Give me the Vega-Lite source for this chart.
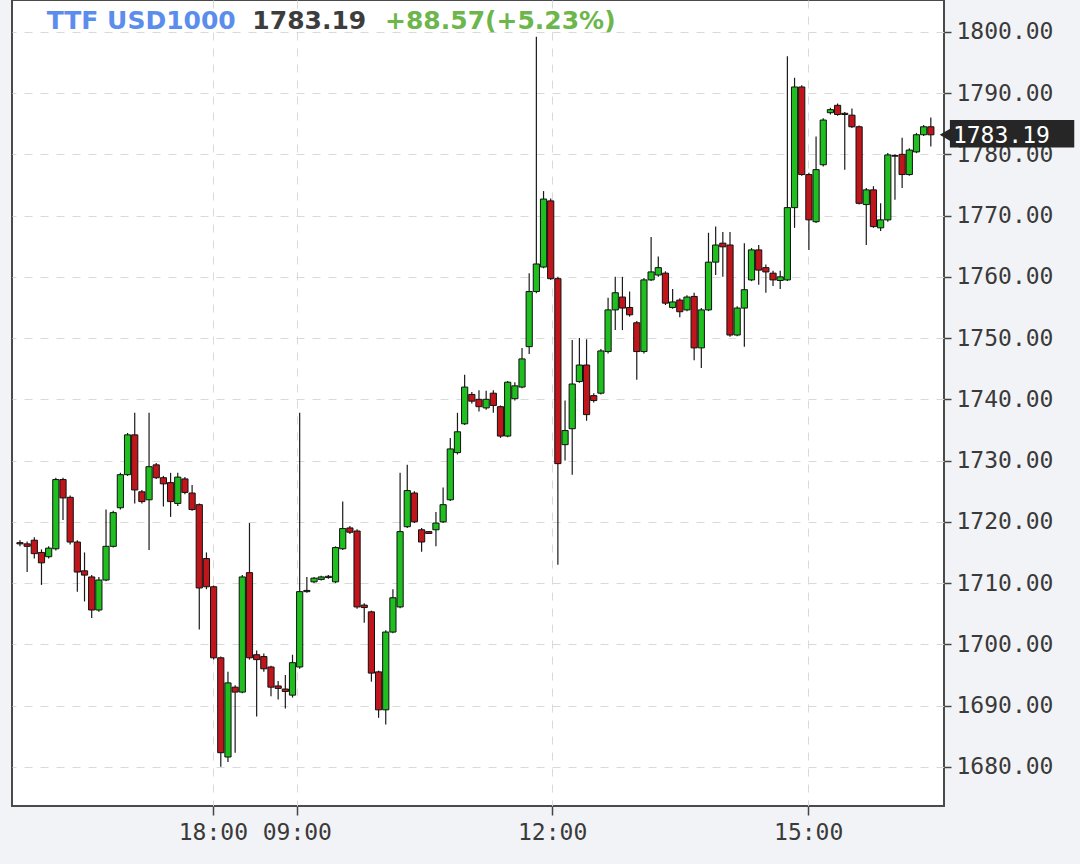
{
  "$schema": "https://vega.github.io/schema/vega-lite/v6.json",
  "width": 932,
  "height": 806,
  "autosize": {"type": "none"},
  "padding": {"left": 12, "top": 0, "right": 136, "bottom": 58},
  "background": "#f2f3f6",
  "config": {
    "view": {"fill": "white", "stroke": "#4a4a4a", "strokeWidth": 2},
    "axis": {
      "labelFont": "DejaVu Sans Mono",
      "labelFontSize": 23,
      "labelColor": "#3a3a3a",
      "tickColor": "#444",
      "gridColor": "#d9d9d9",
      "gridDash": [8, 8],
      "gridWidth": 1,
      "domain": false,
      "title": null
    }
  },
  "datasets": {
    "candles": [
      {"i":0,"o":1716.6,"h":1717.0,"l":1716.0,"c":1716.4},
      {"i":1,"o":1716.4,"h":1716.8,"l":1711.8,"c":1716.0},
      {"i":2,"o":1717.0,"h":1717.5,"l":1714.0,"c":1714.8},
      {"i":3,"o":1715.0,"h":1715.5,"l":1709.7,"c":1713.3},
      {"i":4,"o":1714.3,"h":1716.0,"l":1714.0,"c":1715.7},
      {"i":5,"o":1715.6,"h":1727.2,"l":1715.3,"c":1726.9},
      {"i":6,"o":1726.9,"h":1727.2,"l":1720.3,"c":1723.9},
      {"i":7,"o":1724.0,"h":1724.3,"l":1716.3,"c":1716.7},
      {"i":8,"o":1716.7,"h":1717.0,"l":1708.6,"c":1711.8},
      {"i":9,"o":1712.0,"h":1715.0,"l":1707.0,"c":1711.3},
      {"i":10,"o":1711.0,"h":1711.3,"l":1704.3,"c":1705.6},
      {"i":11,"o":1705.6,"h":1711.0,"l":1705.3,"c":1710.5},
      {"i":12,"o":1710.5,"h":1722.0,"l":1710.3,"c":1716.0},
      {"i":13,"o":1716.0,"h":1721.8,"l":1715.8,"c":1721.5},
      {"i":14,"o":1722.3,"h":1728.0,"l":1722.0,"c":1727.7},
      {"i":15,"o":1727.7,"h":1734.5,"l":1727.5,"c":1734.2},
      {"i":16,"o":1734.2,"h":1737.8,"l":1723.0,"c":1725.2},
      {"i":17,"o":1724.9,"h":1725.2,"l":1723.0,"c":1723.3},
      {"i":18,"o":1723.6,"h":1737.8,"l":1715.4,"c":1729.0},
      {"i":19,"o":1729.3,"h":1729.6,"l":1727.0,"c":1727.2},
      {"i":20,"o":1727.2,"h":1727.5,"l":1722.5,"c":1726.2},
      {"i":21,"o":1726.4,"h":1728.0,"l":1720.8,"c":1723.3},
      {"i":22,"o":1723.0,"h":1728.0,"l":1722.6,"c":1727.3},
      {"i":23,"o":1727.0,"h":1727.3,"l":1724.5,"c":1724.8},
      {"i":24,"o":1724.7,"h":1726.0,"l":1721.8,"c":1722.0},
      {"i":25,"o":1722.8,"h":1723.0,"l":1702.4,"c":1709.2},
      {"i":26,"o":1714.0,"h":1715.0,"l":1709.0,"c":1709.4},
      {"i":27,"o":1709.4,"h":1709.6,"l":1697.5,"c":1697.8},
      {"i":28,"o":1697.8,"h":1698.0,"l":1680.0,"c":1682.3},
      {"i":29,"o":1681.6,"h":1695.5,"l":1680.8,"c":1693.7},
      {"i":30,"o":1693.0,"h":1693.3,"l":1682.3,"c":1692.2},
      {"i":31,"o":1692.2,"h":1711.3,"l":1692.0,"c":1711.0},
      {"i":32,"o":1711.7,"h":1719.8,"l":1697.5,"c":1697.8},
      {"i":33,"o":1698.3,"h":1699.0,"l":1688.2,"c":1697.5},
      {"i":34,"o":1698.0,"h":1698.5,"l":1695.5,"c":1696.0},
      {"i":35,"o":1696.3,"h":1696.5,"l":1691.5,"c":1693.0},
      {"i":36,"o":1693.2,"h":1694.0,"l":1691.0,"c":1692.8},
      {"i":37,"o":1692.7,"h":1695.0,"l":1689.5,"c":1692.3},
      {"i":38,"o":1691.7,"h":1698.3,"l":1691.3,"c":1697.0},
      {"i":39,"o":1696.3,"h":1737.8,"l":1696.0,"c":1708.6},
      {"i":40,"o":1708.6,"h":1711.0,"l":1708.4,"c":1708.8},
      {"i":41,"o":1710.2,"h":1711.0,"l":1710.0,"c":1710.8},
      {"i":42,"o":1710.6,"h":1711.2,"l":1710.4,"c":1711.0},
      {"i":43,"o":1710.9,"h":1711.3,"l":1710.7,"c":1711.1},
      {"i":44,"o":1710.2,"h":1716.0,"l":1710.0,"c":1715.8},
      {"i":45,"o":1715.6,"h":1723.3,"l":1715.4,"c":1718.9},
      {"i":46,"o":1719.0,"h":1719.3,"l":1718.0,"c":1718.3},
      {"i":47,"o":1718.5,"h":1718.8,"l":1705.8,"c":1706.1},
      {"i":48,"o":1706.4,"h":1706.7,"l":1703.5,"c":1706.0},
      {"i":49,"o":1705.3,"h":1705.5,"l":1693.9,"c":1695.3},
      {"i":50,"o":1695.5,"h":1695.7,"l":1688.0,"c":1689.3},
      {"i":51,"o":1689.3,"h":1702.3,"l":1686.9,"c":1702.0},
      {"i":52,"o":1702.0,"h":1709.0,"l":1701.8,"c":1707.6},
      {"i":53,"o":1706.1,"h":1728.0,"l":1705.9,"c":1718.4},
      {"i":54,"o":1719.2,"h":1729.3,"l":1719.0,"c":1725.1},
      {"i":55,"o":1724.7,"h":1725.0,"l":1719.8,"c":1720.0},
      {"i":56,"o":1718.7,"h":1719.0,"l":1715.1,"c":1716.7},
      {"i":57,"o":1718.4,"h":1718.5,"l":1718.0,"c":1718.1},
      {"i":58,"o":1718.7,"h":1721.6,"l":1716.0,"c":1719.8},
      {"i":59,"o":1720.0,"h":1725.6,"l":1719.8,"c":1722.8},
      {"i":60,"o":1723.6,"h":1733.7,"l":1723.4,"c":1731.9},
      {"i":61,"o":1731.3,"h":1737.8,"l":1731.0,"c":1734.7},
      {"i":62,"o":1736.0,"h":1744.0,"l":1735.8,"c":1742.0},
      {"i":63,"o":1740.8,"h":1741.2,"l":1739.3,"c":1739.7},
      {"i":64,"o":1740.0,"h":1741.5,"l":1738.0,"c":1738.8},
      {"i":65,"o":1738.6,"h":1741.4,"l":1738.3,"c":1740.0},
      {"i":66,"o":1741.0,"h":1741.5,"l":1737.8,"c":1739.0},
      {"i":67,"o":1738.8,"h":1739.0,"l":1733.7,"c":1734.0},
      {"i":68,"o":1734.0,"h":1743.0,"l":1733.8,"c":1742.8},
      {"i":69,"o":1740.1,"h":1742.8,"l":1739.8,"c":1742.2},
      {"i":70,"o":1742.0,"h":1748.4,"l":1741.8,"c":1746.6},
      {"i":71,"o":1748.6,"h":1760.6,"l":1747.4,"c":1757.6},
      {"i":72,"o":1757.6,"h":1799.2,"l":1757.3,"c":1762.1},
      {"i":73,"o":1761.6,"h":1774.0,"l":1761.4,"c":1772.7},
      {"i":74,"o":1772.4,"h":1772.8,"l":1759.5,"c":1759.7},
      {"i":75,"o":1759.7,"h":1760.0,"l":1713.0,"c":1729.5},
      {"i":76,"o":1732.6,"h":1739.8,"l":1730.0,"c":1734.9},
      {"i":77,"o":1735.2,"h":1749.7,"l":1727.7,"c":1742.5},
      {"i":78,"o":1742.9,"h":1750.0,"l":1742.7,"c":1745.6},
      {"i":79,"o":1745.6,"h":1749.8,"l":1736.5,"c":1737.5},
      {"i":80,"o":1740.6,"h":1741.0,"l":1739.5,"c":1739.8},
      {"i":81,"o":1741.0,"h":1748.2,"l":1740.8,"c":1747.9},
      {"i":82,"o":1747.8,"h":1756.6,"l":1747.5,"c":1754.6},
      {"i":83,"o":1754.6,"h":1760.0,"l":1751.3,"c":1757.4},
      {"i":84,"o":1756.7,"h":1760.0,"l":1751.3,"c":1754.9},
      {"i":85,"o":1755.0,"h":1757.6,"l":1753.5,"c":1753.8},
      {"i":86,"o":1752.5,"h":1752.8,"l":1743.2,"c":1747.8},
      {"i":87,"o":1747.8,"h":1759.8,"l":1747.5,"c":1759.5},
      {"i":88,"o":1759.5,"h":1766.5,"l":1759.3,"c":1760.8},
      {"i":89,"o":1760.3,"h":1763.3,"l":1760.0,"c":1761.5},
      {"i":90,"o":1760.6,"h":1760.9,"l":1755.4,"c":1755.7},
      {"i":91,"o":1755.0,"h":1758.0,"l":1754.8,"c":1755.9},
      {"i":92,"o":1756.2,"h":1756.5,"l":1753.4,"c":1754.3},
      {"i":93,"o":1754.6,"h":1757.0,"l":1754.4,"c":1756.7},
      {"i":94,"o":1756.8,"h":1757.4,"l":1746.4,"c":1748.4},
      {"i":95,"o":1748.4,"h":1754.9,"l":1745.1,"c":1754.6},
      {"i":96,"o":1754.6,"h":1767.2,"l":1754.4,"c":1762.4},
      {"i":97,"o":1762.4,"h":1768.2,"l":1760.3,"c":1765.2},
      {"i":98,"o":1765.5,"h":1767.3,"l":1760.0,"c":1764.9},
      {"i":99,"o":1765.2,"h":1767.3,"l":1750.2,"c":1750.5},
      {"i":100,"o":1750.5,"h":1755.2,"l":1750.3,"c":1754.9},
      {"i":101,"o":1754.9,"h":1765.5,"l":1748.6,"c":1757.9},
      {"i":102,"o":1759.5,"h":1764.7,"l":1759.3,"c":1764.4},
      {"i":103,"o":1764.4,"h":1765.2,"l":1758.7,"c":1761.1},
      {"i":104,"o":1761.5,"h":1762.0,"l":1757.4,"c":1760.8},
      {"i":105,"o":1760.6,"h":1761.0,"l":1758.5,"c":1759.5},
      {"i":106,"o":1759.4,"h":1761.0,"l":1758.0,"c":1760.0},
      {"i":107,"o":1759.5,"h":1796.0,"l":1759.3,"c":1771.3},
      {"i":108,"o":1771.3,"h":1792.5,"l":1768.0,"c":1791.0},
      {"i":109,"o":1791.0,"h":1791.3,"l":1776.5,"c":1776.7},
      {"i":110,"o":1776.7,"h":1777.0,"l":1764.4,"c":1769.3},
      {"i":111,"o":1769.0,"h":1782.9,"l":1768.8,"c":1777.5},
      {"i":112,"o":1778.3,"h":1785.9,"l":1778.0,"c":1785.6},
      {"i":113,"o":1786.8,"h":1787.6,"l":1786.5,"c":1787.3},
      {"i":114,"o":1788.0,"h":1788.3,"l":1786.3,"c":1786.5},
      {"i":115,"o":1786.7,"h":1786.9,"l":1777.5,"c":1786.5},
      {"i":116,"o":1786.4,"h":1787.5,"l":1784.3,"c":1784.5},
      {"i":117,"o":1784.5,"h":1784.7,"l":1771.8,"c":1772.0},
      {"i":118,"o":1771.8,"h":1774.5,"l":1765.2,"c":1774.2},
      {"i":119,"o":1774.2,"h":1774.8,"l":1768.0,"c":1768.2},
      {"i":120,"o":1768.0,"h":1772.0,"l":1767.5,"c":1769.3},
      {"i":121,"o":1769.3,"h":1780.2,"l":1769.0,"c":1779.9},
      {"i":122,"o":1779.7,"h":1780.0,"l":1772.6,"c":1779.8},
      {"i":123,"o":1780.0,"h":1782.7,"l":1774.5,"c":1776.7},
      {"i":124,"o":1776.7,"h":1781.0,"l":1776.5,"c":1780.7},
      {"i":125,"o":1780.4,"h":1783.5,"l":1780.2,"c":1783.2},
      {"i":126,"o":1783.2,"h":1784.8,"l":1783.0,"c":1784.5},
      {"i":127,"o":1784.5,"h":1786.0,"l":1781.3,"c":1783.19}
    ],
    "header": [
      {"part": "TTF USD1000", "pos": 3.72, "kind": "name"},
      {"part": "1783.19", "pos": 32.4, "kind": "last"},
      {"part": "+88.57(+5.23%)", "pos": 50.9, "kind": "change"}
    ],
    "tag": [
      {"price": 1783.19, "label": "1783.19", "x0": 129.66, "x1": 147.0, "tip": 129.0, "top": 1785.6, "bottom": 1781.1}
    ]
  },
  "layer": [
    {
      "data": {"name": "candles"},
      "mark": {"type": "rule", "color": "#1a1a1a", "strokeWidth": 1.2},
      "encoding": {
        "x": {
          "field": "i",
          "type": "quantitative",
          "scale": {"domain": [-0.414, 128.14], "nice": false, "zero": false},
          "axis": {
            "values": [26.9, 38.6, 74.2, 109.9],
            "labelExpr": "datum.value < 30 ? '18:00' : datum.value < 50 ? '09:00' : datum.value < 90 ? '12:00' : '15:00'",
            "tickSize": 9,
            "tickWidth": 1.5,
            "labelPadding": 6,
            "grid": true
          }
        },
        "y": {
          "field": "l",
          "type": "quantitative",
          "scale": {"domain": [1673.6, 1805.2], "nice": false, "zero": false},
          "axis": {
            "orient": "right",
            "values": [1680, 1690, 1700, 1710, 1720, 1730, 1740, 1750, 1760, 1770, 1780, 1790, 1800],
            "format": ".2f",
            "tickSize": 7,
            "tickWidth": 1.5,
            "labelPadding": 5,
            "grid": true
          }
        },
        "y2": {"field": "h"}
      }
    },
    {
      "data": {"name": "candles"},
      "mark": {"type": "bar", "width": 6.2, "stroke": "#111111", "strokeWidth": 1},
      "encoding": {
        "x": {"field": "i", "type": "quantitative"},
        "y": {"field": "o", "type": "quantitative"},
        "y2": {"field": "c"},
        "color": {
          "condition": {"test": "datum.c >= datum.o", "value": "#1fbf1f"},
          "value": "#c0151b"
        }
      }
    },
    {
      "data": {"name": "header"},
      "mark": {"type": "text", "align": "left", "baseline": "alphabetic", "font": "DejaVu Sans", "fontWeight": "bold", "fontSize": 25},
      "encoding": {
        "x": {"field": "pos", "type": "quantitative"},
        "y": {"datum": 1800.45},
        "text": {"field": "part"},
        "color": {
          "field": "kind",
          "type": "nominal",
          "scale": {"domain": ["name", "last", "change"], "range": ["#5b8ded", "#3d3d3d", "#6cb64b"]},
          "legend": null
        }
      }
    },
    {
      "data": {"name": "tag"},
      "mark": {"type": "rect", "color": "#262626"},
      "encoding": {
        "x": {"field": "x0", "type": "quantitative"},
        "x2": {"field": "x1"},
        "y": {"field": "top", "type": "quantitative"},
        "y2": {"field": "bottom"}
      }
    },
    {
      "data": {"name": "tag"},
      "mark": {"type": "point", "shape": "triangle-left", "filled": true, "color": "#262626", "size": 160, "opacity": 1},
      "encoding": {
        "x": {"field": "tip", "type": "quantitative"},
        "y": {"field": "price", "type": "quantitative"}
      }
    },
    {
      "data": {"name": "tag"},
      "mark": {"type": "text", "align": "left", "baseline": "middle", "font": "DejaVu Sans Mono", "fontSize": 23, "color": "white", "dx": 3, "dy": 1},
      "encoding": {
        "x": {"field": "x0", "type": "quantitative"},
        "y": {"field": "price", "type": "quantitative"},
        "text": {"field": "label"}
      }
    }
  ]
}
